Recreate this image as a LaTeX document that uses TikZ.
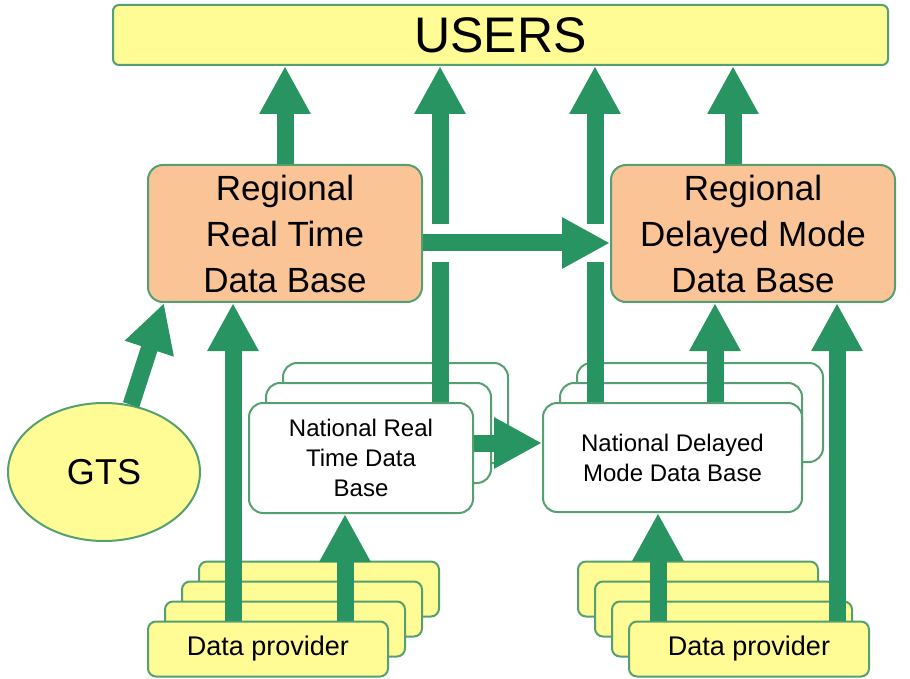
\documentclass[tikz,border=0pt]{standalone}
\usepackage{fontspec}
\setmainfont{Liberation Sans}
\usepackage{tikz}
\usetikzlibrary{arrows.meta}
\usetikzlibrary{shapes.geometric}
\definecolor{flowgreen}{RGB}{40,148,98}
\definecolor{boxgreen}{RGB}{84,160,112}
\definecolor{paleyellow}{RGB}{255,252,150}
\definecolor{peach}{RGB}{250,196,150}
\tikzset{
every node/.style={ % Common look of all boxes
draw=boxgreen,
line width=1pt,
align=center,
inner sep=0pt},
users/.style={rounded corners=3pt, fill=paleyellow,
minimum width=387.5pt, minimum height=30pt,
font=\fontsize{25}{30}\selectfont},
regional/.style={rounded corners=7.5pt, fill=peach,
minimum height=68.5pt,
font=\fontsize{17.5}{23}\selectfont},
national/.style={rounded corners=7pt, fill=white,
font=\fontsize{12}{15}\selectfont},
provider/.style={rounded corners=4pt, fill=paleyellow,
minimum width=120pt, minimum height=27.5pt,
font=\fontsize{13.5}{16}\selectfont},
gts/.style={ellipse, fill=paleyellow,
minimum width=96pt, minimum height=69pt,
font=\fontsize{18}{22}\selectfont},
flow/.style={ % Thick green arrows
draw=flowgreen,
line width=8.5pt,
-{Triangle[width=24pt,length=24pt]}}}

\begin{document}
\begin{tikzpicture}[x=0.5pt, y=-0.5pt]
\useasboundingbox (0,0) rectangle (910,679);
\node[users] (users) at (500.5,35) {USERS};
\node[regional, minimum width=137pt] (rrt) at (285,233.5) {Regional\\Real Time\\Data Base};
\node[regional, minimum width=142pt] (rdm) at (753,233.5) {Regional\\Delayed Mode\\Data Base};
\node[gts] (gts) at (104,472) {GTS};
% national data bases, back to front
\node[national, minimum width=112.5pt, minimum height=50pt] (nrt3) at (395.5,413) {};
\node[national, minimum width=112.5pt, minimum height=50pt] (nrt2) at (378.5,433) {};
\node[national, minimum width=112pt, minimum height=55pt] (nrt) at (361,458) {National Real\\Time Data\\Base};
\node[national, minimum width=123pt, minimum height=49.5pt] (ndm3) at (700,412.5) {};
\node[national, minimum width=121pt, minimum height=50pt] (ndm2) at (681,433) {};
\node[national, minimum width=129.5pt, minimum height=54.5pt] (ndm) at (672.5,457.5) {National Delayed\\Mode Data Base};
% data providers, back to front
\foreach \i in {3,2,1}
  \node[provider] (dpl\i) at ({268+17*\i},{649-20*\i}) {};
\node[provider] (dpl) at (268,649) {Data provider};
\foreach \i in {3,2,1}
  \node[provider] (dpr\i) at ({749-17*\i},{649-20*\i}) {};
\node[provider] (dpr) at (749,649) {Data provider};
% where the arrows run
\coordinate (l1) at (233,0);
\coordinate (l2) at (345,0);
\coordinate (l3) at (440,0);
\coordinate (l4) at (595,0);
\coordinate (l5) at (658,0);
\coordinate (l6) at (715,0);
\coordinate (l7) at (733,0);
\coordinate (l8) at (837,0);
\coordinate (h1) at (0,243);
\coordinate (h2) at (0,443);
% arrows
\draw[flow] (rrt.north) -- (rrt.north |- users.south);
\draw[flow] (nrt.north -| l3) -- (users.south -| l3);
\draw[flow] (ndm.north -| l4) -- (users.south -| l4);
\draw[flow] (rdm.north -| l7) -- (users.south -| l7);
\draw[flow, preaction={draw=white, line width=19pt, -, shorten <=3pt, shorten >=3pt}]
  (rrt.east |- h1) -- (rdm.west |- h1);
\draw[flow] (gts.68) -- ([xshift=8.5pt]rrt.south west);
\draw[flow] (dpl.north -| l1) -- (rrt.south -| l1);
\draw[flow] (dpl.north -| l2) -- (nrt.south -| l2);
\draw[flow] (nrt.east |- h2) -- (ndm.west |- h2);
\draw[flow] (ndm.north -| l6) -- (rdm.south -| l6);
\draw[flow] (dpr.north -| l5) -- (ndm.south -| l5);
\draw[flow] (dpr.north -| l8) -- (rdm.south -| l8);
\end{tikzpicture}
\end{document}
